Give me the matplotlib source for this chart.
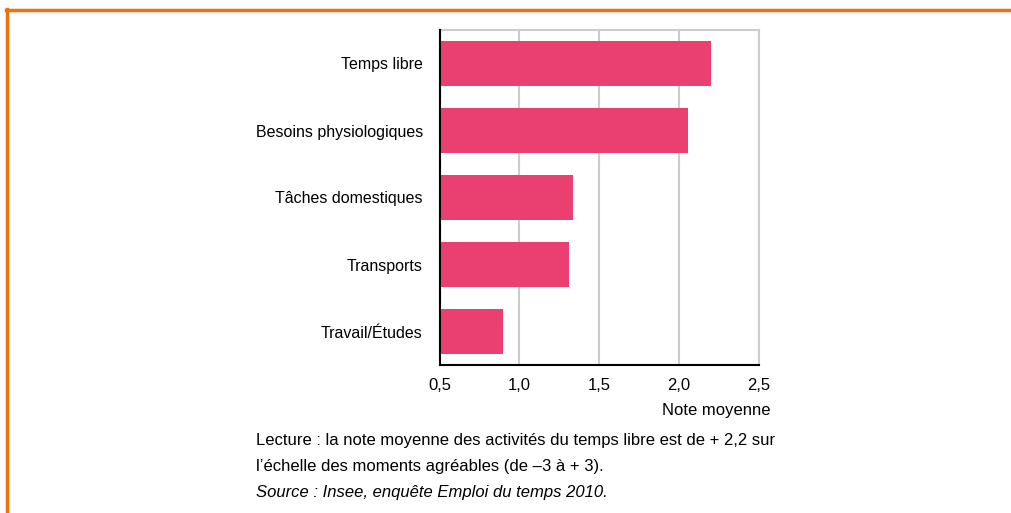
import matplotlib.pyplot as plt
from matplotlib.lines import Line2D

# Data
categories = ["Temps libre", "Besoins physiologiques", "Tâches domestiques",
              "Transports", "Travail/Études"]
values = [2.2, 2.06, 1.34, 1.31, 0.90]
xticks = [0.5, 1.0, 1.5, 2.0, 2.5]
xtick_labels = ["0,5", "1,0", "1,5", "2,0", "2,5"]

bar_color = "#EA4071"
orange = "#F26F10"

plt.rcParams['font.family'] = ['Liberation Sans', 'DejaVu Sans']

fig = plt.figure(figsize=(10.11, 5.13), dpi=100)
W, H = 1011, 513
ax = fig.add_axes([439.5 / W, (H - 365) / H, 319 / W, 335 / H])

y = list(range(len(categories)))[::-1]
ax.barh(y, [v - xticks[0] for v in values], left=xticks[0], height=0.67,
        color=bar_color, zorder=3)

ax.set_xlim(xticks[0], xticks[-1])
ax.set_ylim(-0.5, len(categories) - 0.5)
ax.set_xticks(xticks)
ax.set_xticklabels(xtick_labels, fontsize=12)
ax.set_yticks(y)
ax.set_yticklabels(categories, fontsize=11.5)
ax.tick_params(axis='x', length=0, pad=9)
ax.tick_params(axis='y', length=0, pad=12)
ax.grid(axis='x', color='#cccccc', linewidth=1.5, zorder=0)

for side in ['top', 'right']:
    ax.spines[side].set_color('#cccccc')
    ax.spines[side].set_linewidth(1.5)
for side in ['left', 'bottom']:
    ax.spines[side].set_color('black')
    ax.spines[side].set_linewidth(1.5)
    ax.spines[side].set_zorder(4)

fig.text(771 / W, 1 - 411 / H, "Note moyenne", ha='right', va='center', fontsize=12)
fig.text(256 / W, 1 - 441 / H,
         "Lecture : la note moyenne des activités du temps libre est de + 2,2 sur",
         ha='left', va='center', fontsize=12)
fig.text(256 / W, 1 - 467 / H,
         "l’échelle des moments agréables (de –3 à + 3).",
         ha='left', va='center', fontsize=12)
fig.text(256 / W, 1 - 493 / H,
         "Source : Insee, enquête Emploi du temps 2010.",
         ha='left', va='center', fontsize=12, style='italic')

# orange frame on top and left
fig.add_artist(Line2D([6 / W, 1], [1 - 10 / H, 1 - 10 / H], color=orange,
                      linewidth=2.5, transform=fig.transFigure))
fig.add_artist(Line2D([7 / W, 7 / W], [0, 1 - 9 / H], color=orange,
                      linewidth=2.5, transform=fig.transFigure))

fig.savefig("out.png", dpi=100)
